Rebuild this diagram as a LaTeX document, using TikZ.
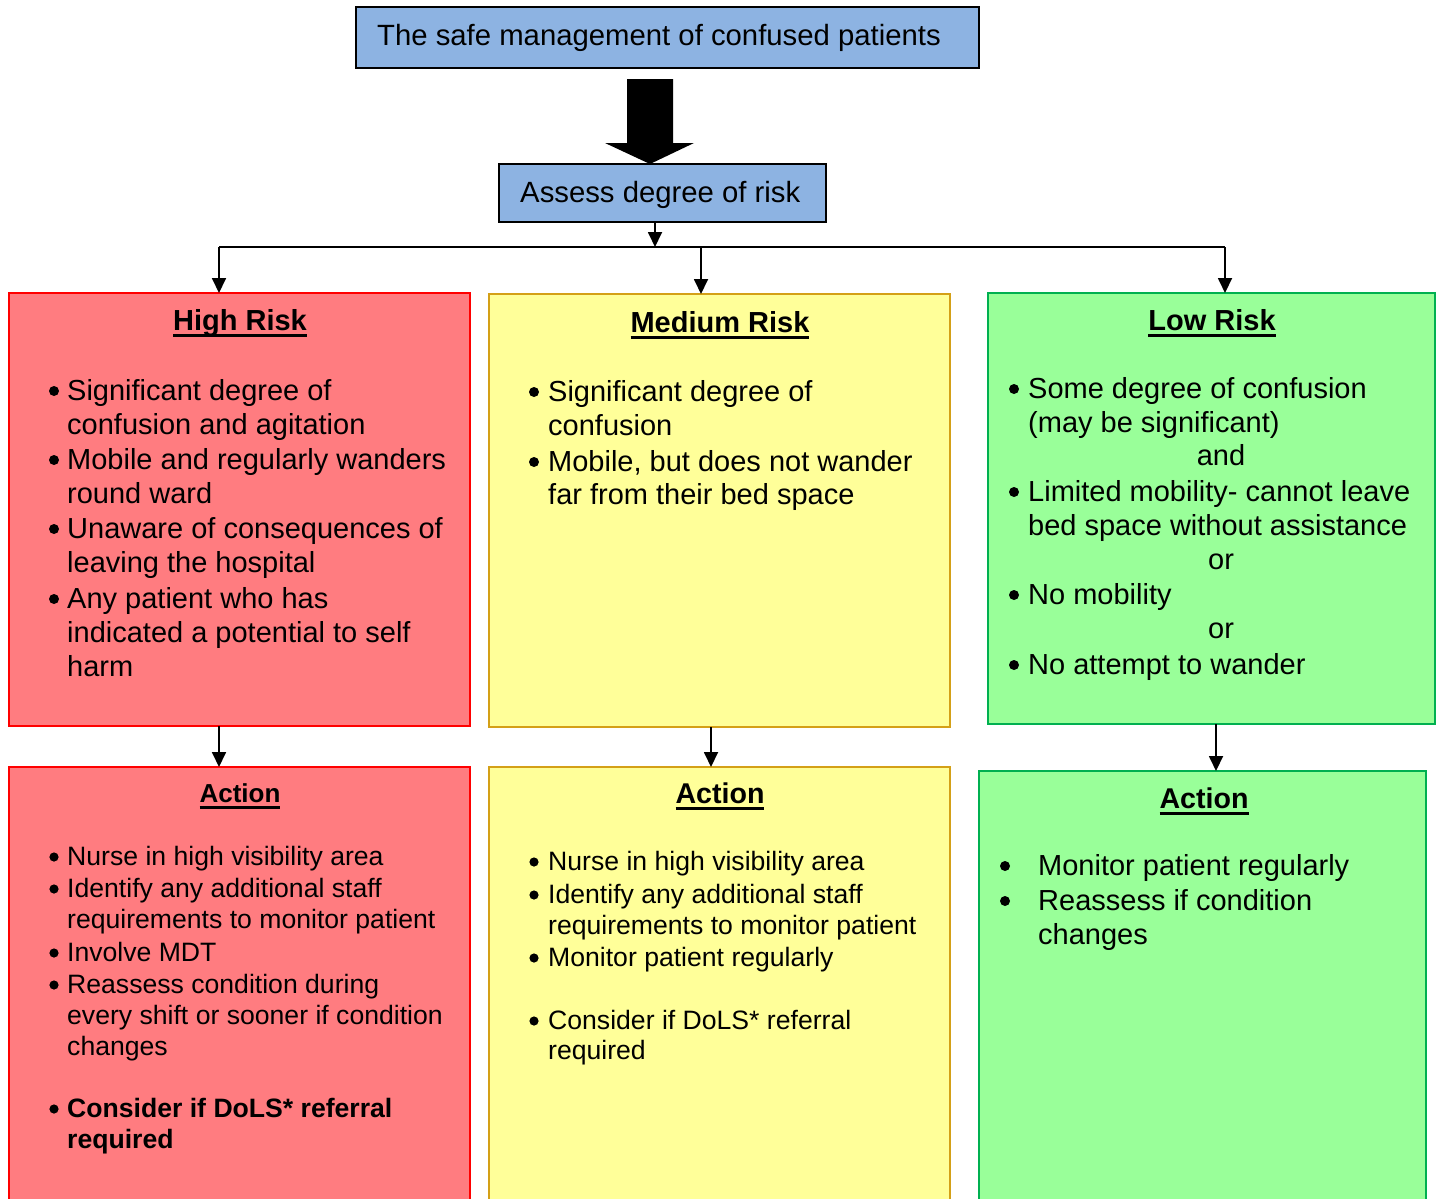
\documentclass[tikz,border=0pt]{standalone}
\usepackage{fontspec}
\setmainfont{Liberation Sans}
\usetikzlibrary{arrows.meta,calc}
\definecolor{titleblue}{HTML}{8DB3E2}
\definecolor{hifill}{HTML}{FF7C80}
\definecolor{hiline}{HTML}{FF0000}
\definecolor{mefill}{HTML}{FFFF99}
\definecolor{meline}{HTML}{D4A017}
\definecolor{lofill}{HTML}{99FF99}
\definecolor{loline}{HTML}{00B050}
\newcommand\ulbox[2][3.4bp]{\setbox0\hbox{#2}\rlap{\rule[-7bp]{\wd0}{#1}}\box0}
\newcommand\putline[5][txt]{\node[#1] (#2) at (#3,#4) {#5};}
\newcommand\bul[3][5bp]{\fill (#2,#3) circle[radius=#1];}
\tikzset{
  boxbase/.style={rectangle, inner sep=0pt, outer sep=0pt, anchor=north west, line width=1.6bp},
  txt/.style={inner sep=0pt, anchor=base west, font=\fontsize{29bp}{34.6bp}\selectfont},
  big/.style={inner sep=0pt, anchor=base west, font=\fontsize{29.3bp}{34.6bp}\selectfont},
  sml/.style={inner sep=0pt, anchor=base west, font=\fontsize{26.6bp}{31bp}\selectfont},
  smlb/.style={inner sep=0pt, anchor=base west, font=\fontsize{26.6bp}{31bp}\selectfont\bfseries},
  ctr/.style={inner sep=0pt, anchor=base, font=\fontsize{29bp}{34.6bp}\selectfont},
  ttl/.style={inner sep=0pt, anchor=base, font=\fontsize{#1}{34bp}\selectfont\bfseries},
  ttl/.default=29bp,
  conn/.style={line width=1.8bp, black},
  arr/.style={conn, -{Triangle[length=15bp,width=14bp]}}
}
\begin{document}
\begin{tikzpicture}[x=1bp,y=-1bp]
\clip (0,0) rectangle (1437,1198);
\fill[white] (0,0) rectangle (1437,1198);

% top boxes
\node[boxbase, draw=black, fill=titleblue, minimum width=623bp, minimum height=61bp] (title) at (356,7) {};
\putline[big]{titletxt}{377}{45}{The safe management of confused patients}
\node[boxbase, draw=black, fill=titleblue, minimum width=327bp, minimum height=58bp] (assess) at (499,164) {};
\putline[big]{assesstxt}{520}{202}{Assess degree of risk}

% big block arrow
\coordinate (bigtip) at (650,164);
\fill[black] (bigtip) -- ++(44,-21) -- ++(-21,0) -- ++(0,-64) -- ++(-46,0) -- ++(0,64) -- ++(-22,0) -- cycle;

% risk boxes
\node[boxbase, draw=hiline, fill=hifill, minimum width=461bp, minimum height=433bp] (hr) at (9,293) {};
\node[boxbase, draw=meline, fill=mefill, minimum width=461bp, minimum height=433bp] (mr) at (489,294) {};
\node[boxbase, draw=loline, fill=lofill, minimum width=447bp, minimum height=431bp] (lr) at (988,293) {};

% action boxes
\node[boxbase, draw=hiline, fill=hifill, minimum width=461bp, minimum height=460bp] (ha) at (9,767) {};
\node[boxbase, draw=meline, fill=mefill, minimum width=461bp, minimum height=460bp] (ma) at (489,767) {};
\node[boxbase, draw=loline, fill=lofill, minimum width=447bp, minimum height=460bp] (la) at (979,771) {};

% connectors
\coordinate (split) at (655,247);
\coordinate (jl) at (219,247);
\coordinate (jm) at (701,247);
\coordinate (jr) at (1225,247);
\coordinate (xm) at (711,0);
\coordinate (xl) at (1216,0);
\draw[arr] (assess.south -| split) -- (split);
\draw[conn] (jl) -- (jr);
\draw[arr] (jl) -- (jl |- hr.north);
\draw[arr] (jm) -- (jm |- mr.north);
\draw[arr] (jr) -- (jr |- lr.north);
\draw[arr] (hr.south -| jl) -- (ha.north -| jl);
\draw[arr] (mr.south -| xm) -- (ma.north -| xm);
\draw[arr] (lr.south -| xl) -- (la.north -| xl);

% High risk text
\node[ttl] (hrt) at (240,330) {\ulbox{High Risk}};
\bul{54}{391}\putline{h1}{67}{400}{Significant degree of}
\putline{h2}{67}{434}{confusion and agitation}
\bul{54}{460}\putline{h3}{67}{469}{Mobile and regularly wanders}
\putline{h4}{67}{503}{round ward}
\bul{54}{529}\putline{h5}{67}{538}{Unaware of consequences of}
\putline{h6}{67}{572}{leaving the hospital}
\bul{54}{599}\putline{h7}{67}{608}{Any patient who has}
\putline{h8}{67}{642}{indicated a potential to self}
\putline{h9}{67}{676}{harm}

% Medium risk text
\node[ttl] (mrt) at (720,332) {\ulbox{Medium Risk}};
\bul{534}{392}\putline{m1}{548}{401}{Significant degree of}
\putline{m2}{548}{435}{confusion}
\bul{534}{462}\putline{m3}{548}{471}{Mobile, but does not wander}
\putline{m4}{548}{504}{far from their bed space}

% Low risk text
\node[ttl] (lrt) at (1212,330) {\ulbox{Low Risk}};
\bul{1014}{389}\putline{l1}{1028}{398}{Some degree of confusion}
\putline{l2}{1028}{432}{(may be significant)}
\putline[ctr]{l3}{1221}{465}{and}
\bul{1014}{492}\putline{l4}{1028}{501}{Limited mobility- cannot leave}
\putline{l5}{1028}{535}{bed space without assistance}
\putline[ctr]{l6}{1221}{569}{or}
\bul{1014}{595}\putline{l7}{1028}{604}{No mobility}
\putline[ctr]{l8}{1221}{638}{or}
\bul{1014}{665}\putline{l9}{1028}{674}{No attempt to wander}

% High action text
\node[ttl=26bp] (hat) at (240,802) {\ulbox[3bp]{Action}};
\bul[4.6bp]{54}{857}\putline[sml]{a1}{67}{865}{Nurse in high visibility area}
\bul[4.6bp]{54}{889}\putline[sml]{a2}{67}{897}{Identify any additional staff}
\putline[sml]{a3}{67}{928}{requirements to monitor patient}
\bul[4.6bp]{54}{953}\putline[sml]{a4}{67}{961}{Involve MDT}
\bul[4.6bp]{54}{985}\putline[sml]{a5}{67}{993}{Reassess condition during}
\putline[sml]{a6}{67}{1024}{every shift or sooner if condition}
\putline[sml]{a7}{67}{1055}{changes}
\bul[4.6bp]{54}{1109}\putline[smlb]{a8}{67}{1117}{Consider if DoLS* referral}
\putline[smlb]{a9}{67}{1148}{required}

% Medium action text
\node[ttl=28.6bp] (mat) at (720,803) {\ulbox{Action}};
\bul[4.6bp]{534}{862}\putline[sml]{b1}{548}{870}{Nurse in high visibility area}
\bul[4.6bp]{534}{895}\putline[sml]{b2}{548}{903}{Identify any additional staff}
\putline[sml]{b3}{548}{934}{requirements to monitor patient}
\bul[4.6bp]{534}{958}\putline[sml]{b4}{548}{966}{Monitor patient regularly}
\bul[4.6bp]{534}{1021}\putline[sml]{b5}{548}{1029}{Consider if DoLS* referral}
\putline[sml]{b6}{548}{1059}{required}

% Low action text
\node[ttl=28.6bp] (lat) at (1204,808) {\ulbox{Action}};
\bul{1005}{866}\putline{c1}{1038}{875}{Monitor patient regularly}
\bul{1005}{901}\putline{c2}{1038}{910}{Reassess if condition}
\putline{c3}{1038}{944}{changes}
\end{tikzpicture}
\end{document}
